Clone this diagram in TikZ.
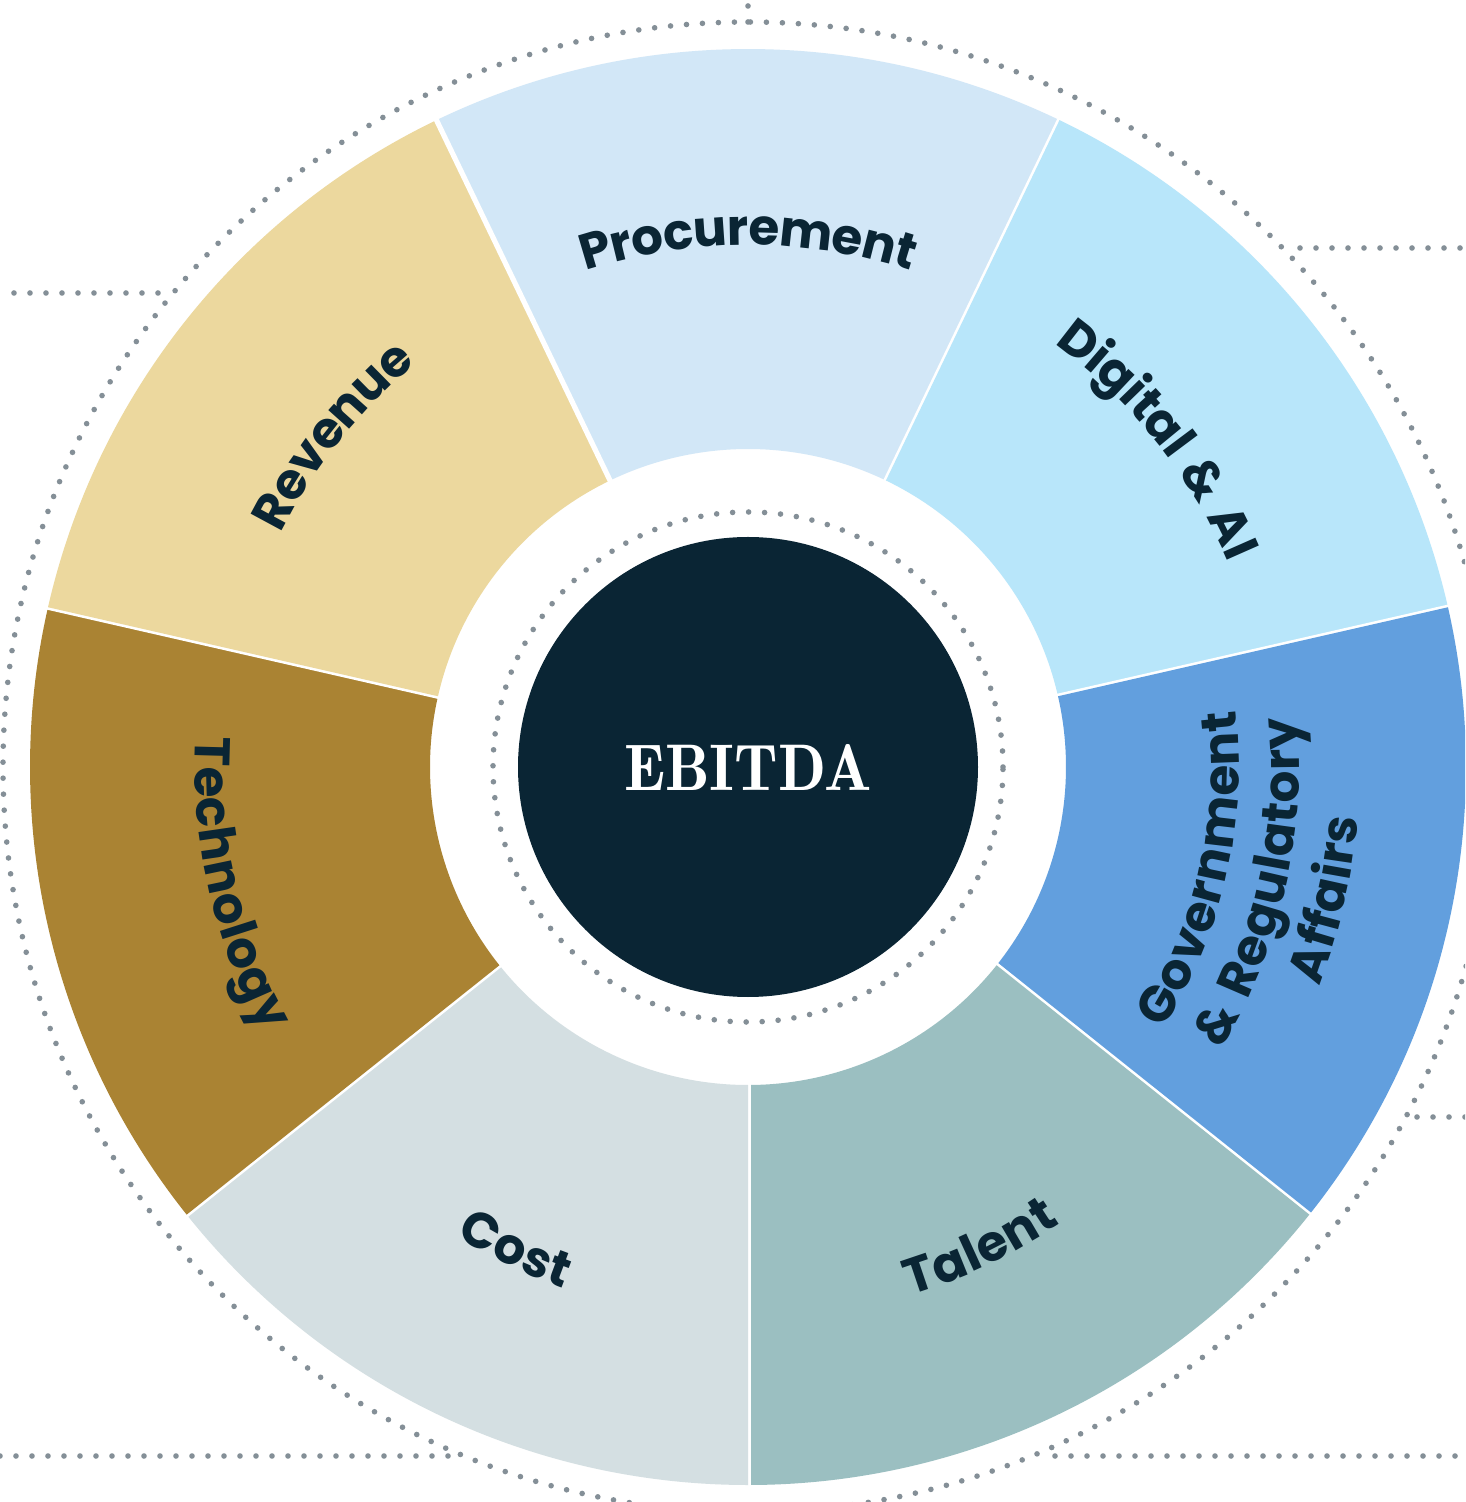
\documentclass[tikz,border=0pt]{standalone}
\usepackage{fontspec}
\usepackage{graphicx}
\usetikzlibrary{decorations.text}

% label font for the wheel segments
\newfontfamily\segfont{Poppins}[LetterSpace=8]
\newcommand\segtext{\segfont\bfseries\fontsize{25pt}{29pt}\selectfont}
% heavier serif for the hub title
\newfontfamily\hubfont{lmromandemi10-regular.otf}

\definecolor{ink}{HTML}{0A2534}
\definecolor{dotgrey}{HTML}{848F97}
\definecolor{procC}{HTML}{D2E7F7}
\definecolor{digiC}{HTML}{B8E6FA}
\definecolor{govC}{HTML}{629FDE}
\definecolor{talC}{HTML}{9BBFC1}
\definecolor{costC}{HTML}{D4DFE2}
\definecolor{techC}{HTML}{AA8333}
\definecolor{revC}{HTML}{ECD89E}

\begin{document}
\begin{tikzpicture}[x=0.5pt,y=0.5pt,
  dots/.style={draw=dotgrey, line width=2.8pt, line cap=round, dash pattern=on 0pt off 8pt},
  seglabel/.style={decorate, decoration={text along path, text={|\segtext|#1},
      text align=center, text color=ink, raise=-6.5pt}},
  gap/.style={draw=white, line width=2.6pt}
]
\useasboundingbox (-748,-735) rectangle (717,767);
\fill[white] (-748,-735) rectangle (717,767);
\clip (-748,-735) rectangle (717,767);

% outer dotted ring and the dotted leader lines leaving it
\draw[dots] (0,0) circle[radius=745];

\coordinate (topA) at (90:745);      \coordinate (topB) at (0,767);
\coordinate (leftA) at (-590,474);   \coordinate (leftB) at (-748,474);
\coordinate (rightA) at (552,519);   \coordinate (rightB) at (717,519);
\coordinate (lowA) at (669,-350);    \coordinate (lowB) at (717,-350);
\coordinate (botlA) at (-300,-689);  \coordinate (botlB) at (-748,-689);
\coordinate (botrA) at (307,-689);   \coordinate (botrB) at (717,-689);
\draw[dots] (topA) -- (topB);
\draw[dots] (leftA) -- (leftB);
\draw[dots] (rightA) -- (rightB);
\draw[dots] (lowA) -- (lowB);
\draw[dots] (botlA) -- (botlB);
\draw[dots] (botrA) -- (botrB);

% seven ring segments
\foreach \s/\col in {64.2857/procC, 12.8571/digiC, -38.5714/govC, -90/talC,
                     -141.4286/costC, -192.8571/techC, -244.2857/revC} {
  \pgfmathsetmacro\e{\s+51.4286}
  \fill[\col] (\s:318) arc[start angle=\s, end angle=\e, radius=318]
     -- (\e:718) arc[start angle=\e, end angle=\s, radius=718] -- cycle;
  \draw[gap] (\s:300) -- (\s:730);
}

% segment labels, set along arcs
\path[seglabel=Procurement] (118:535) arc[start angle=118, end angle=62, radius=535];
\path[seglabel={Digital {\&} AI}] (66.57:535) arc[start angle=66.57, end angle=10.57, radius=535];
\path[seglabel=Revenue] (169.43:535) arc[start angle=169.43, end angle=113.43, radius=535];
\path[seglabel=Technology] (164.86:540) arc[start angle=164.86, end angle=220.86, radius=540];
\path[seglabel=Cost] (-143.71:540) arc[start angle=-143.71, end angle=-87.71, radius=540];
\path[seglabel=Talent] (-92.29:540) arc[start angle=-92.29, end angle=-36.29, radius=540];
\path[seglabel=Government] (-42.86:478) arc[start angle=-42.86, end angle=17.14, radius=478];
\path[seglabel={{\&} Regulatory}] (-42.86:538) arc[start angle=-42.86, end angle=17.14, radius=538];
\path[seglabel=Affairs] (-42.86:599) arc[start angle=-42.86, end angle=17.14, radius=599];

% hub
\draw[dots] (0,0) circle[radius=255];
\node[circle, fill=ink, minimum size=230pt, inner sep=0pt] (hub) at (0,0) {};
\node[text=white, inner sep=0pt] (hublabel) at (hub.center)
  {\hubfont\fontsize{33pt}{35pt}\selectfont\scalebox{0.95}[1]{EBITDA}};
\end{tikzpicture}
\end{document}
